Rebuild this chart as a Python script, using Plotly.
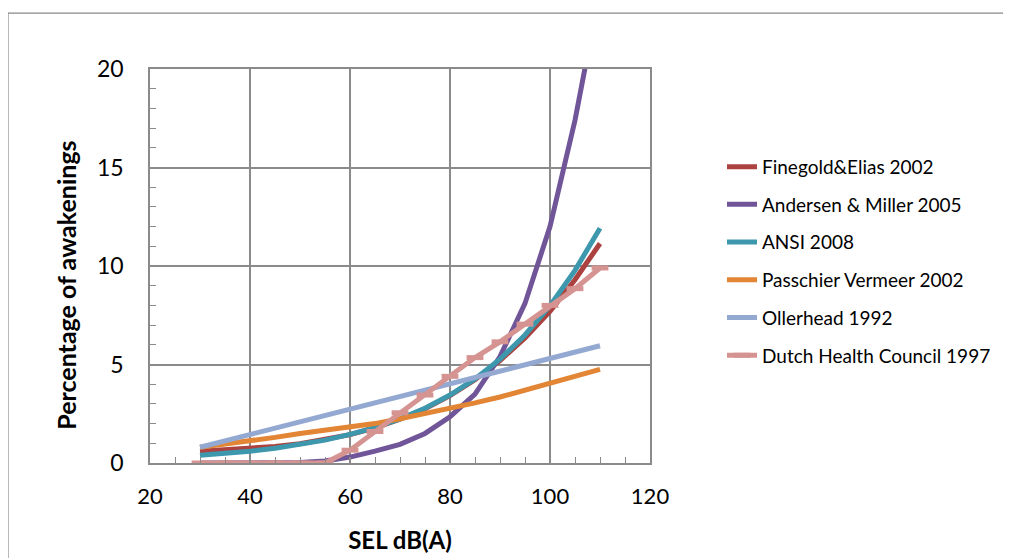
import plotly.graph_objects as go

sel = [30, 35, 40, 45, 50, 55, 60, 65, 70, 75, 80, 85, 90, 95, 100, 105, 110]

finegold = [0.6, 0.66, 0.74, 0.84, 0.98, 1.18, 1.44, 1.79, 2.22, 2.76, 3.42, 4.23, 5.2, 6.35, 7.7, 9.3, 11.14]
andersen = [0.0, 0.0, 0.0, 0.0, 0.02, 0.1, 0.3, 0.6, 0.95, 1.5, 2.35, 3.5, 5.4, 8.1, 12.0, 17.4, 24.0]
ansi = [0.39, 0.48, 0.60, 0.75, 0.93, 1.16, 1.45, 1.80, 2.24, 2.78, 3.45, 4.27, 5.27, 6.50, 7.99, 9.78, 11.92]
passchier = [0.8, 0.95, 1.15, 1.3, 1.5, 1.65, 1.83, 2.0, 2.25, 2.5, 2.8, 3.05, 3.35, 3.7, 4.05, 4.4, 4.75]
ollerhead = [0.8, 1.12, 1.45, 1.77, 2.1, 2.4, 2.7, 3.02, 3.35, 3.67, 4.0, 4.32, 4.65, 4.97, 5.3, 5.62, 5.95]
dutch = [0.0, 0.0, 0.0, 0.0, 0.0, 0.0, 0.65, 1.6, 2.55, 3.45, 4.4, 5.35, 6.15, 7.05, 8.0, 8.85, 9.9]

names = ["Finegold&Elias 2002", "Andersen & Miller 2005", "ANSI 2008",
         "Passchier Vermeer 2002", "Ollerhead 1992", "Dutch Health Council 1997"]
series = [finegold, andersen, ansi, passchier, ollerhead, dutch]
colors = ["#AB423F", "#705599", "#3D97AD", "#E28534", "#93A9D1", "#D59391"]

x_ticks = [20, 40, 60, 80, 100, 120]
y_ticks = [0, 5, 10, 15, 20]
x_title = "SEL dB(A)"
y_title = "Percentage of awakenings"

FONT = "Lato"
GRID = "#8A8A8A"

fig = go.Figure()
for i, (name, ys, col) in enumerate(zip(names, series, colors)):
    is_dutch = name.startswith("Dutch")
    fig.add_trace(go.Scatter(
        x=sel, y=ys, name=name, legendgroup=f"g{i}",
        mode="lines+markers" if is_dutch else "lines",
        line=dict(color=col, width=5),
        marker=dict(symbol="line-ew", size=12, color=col,
                    line=dict(color=col, width=5)) if is_dutch else None,
    ))

fig.update_layout(
    width=1011, height=558,
    margin=dict(l=142, r=369, t=61, b=103),
    paper_bgcolor="white", plot_bgcolor="white",
    font=dict(family=FONT, color="black"),
    showlegend=True,
    legend=dict(x=1.144, y=0.80, xanchor="left", yanchor="top",
                font=dict(family=FONT, size=19, color="black"),
                tracegroupgap=10, traceorder="grouped",
                bgcolor="rgba(0,0,0,0)"),
    xaxis=dict(range=[20, 120], tickvals=x_ticks, ticktext=[str(v) for v in x_ticks],
               showgrid=True, gridcolor=GRID, gridwidth=1.5,
               showline=True, linecolor=GRID, linewidth=1.5, mirror=True,
               ticks="inside", ticklen=6, tickcolor=GRID, tickwidth=1.5,
               minor=dict(dtick=5, ticks="inside", ticklen=6, tickcolor=GRID, tickwidth=1.2, showgrid=False),
               tickfont=dict(family=FONT, size=22, color="black"),
               ticklabelstandoff=13, zeroline=False,
               title=dict(text=f"<b>{x_title}</b>", font=dict(family=FONT, size=24, color="black"), standoff=24)),
    yaxis=dict(range=[0, 20], tickvals=y_ticks, ticktext=[str(v) for v in y_ticks],
               showgrid=True, gridcolor=GRID, gridwidth=1.5,
               showline=True, linecolor=GRID, linewidth=1.5, mirror=True,
               ticks="inside", ticklen=6, tickcolor=GRID, tickwidth=1.5,
               minor=dict(dtick=1, ticks="inside", ticklen=6, tickcolor=GRID, tickwidth=1.2, showgrid=False),
               tickfont=dict(family=FONT, size=23, color="black"),
               ticklabelstandoff=20, zeroline=False),
    annotations=[dict(text=f"<b>{y_title}</b>", textangle=-90, xref="paper", yref="paper",
                      x=-0.168, y=0.45, xanchor="center", yanchor="middle", showarrow=False,
                      font=dict(family=FONT, size=25, color="black"))],
    shapes=[
        dict(type="line", xref="paper", yref="paper", x0=-0.284, x1=2.0, y0=1.142, y1=1.142,
             line=dict(color="#888888", width=1.2), layer="below"),
        dict(type="line", xref="paper", yref="paper", x0=-0.284, x1=-0.284, y0=-1.0, y1=1.142,
             line=dict(color="#888888", width=1.2), layer="below"),
    ],
)

fig.write_html("out.html")
